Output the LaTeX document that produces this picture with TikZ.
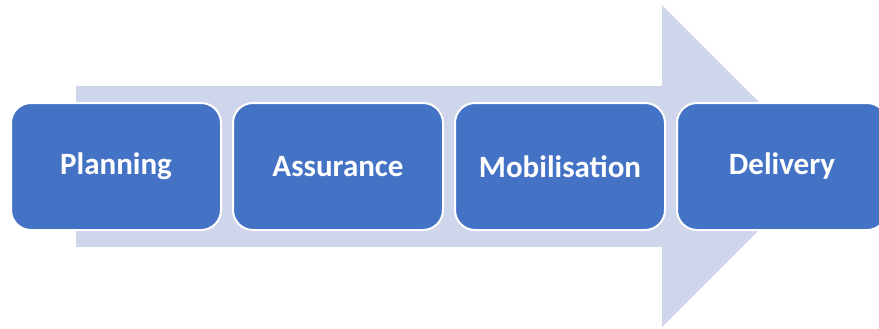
\documentclass[tikz,border=0pt]{standalone}
\usepackage{fontspec}
\setmainfont{Carlito}
\definecolor{stageblue}{HTML}{4472C4}
\definecolor{arrowgrey}{HTML}{CFD5EA}
\tikzset{
  stage/.style={draw=white, line width=1pt, fill=stageblue, rounded corners=10pt,
    minimum width=105pt, minimum height=63.5pt, text=white,
    font=\fontsize{15.5}{18}\selectfont\bfseries}
}
\begin{document}
\begin{tikzpicture}[x=0.5pt, y=-0.5pt]
      \useasboundingbox (0,0) rectangle (879,328);
      \clip (0,0) rectangle (879,328);

      % Background arrow
      \fill[arrowgrey] (76,86) -- (662,86) -- (662,5) -- (823,166) -- (662,327)
        -- (662,247) -- (76,247) -- cycle;

      % Stages
      \node[stage] (planning) at (116, 166.5) {Planning};
      \node[stage] (assurance) at (338, 166.5) {Assurance};
      \node[stage] (mobilisation) at (560, 166.5) {Mobilisation};
      \node[stage] (delivery) at (782, 166.5) {Delivery};
\end{tikzpicture}
\end{document}
